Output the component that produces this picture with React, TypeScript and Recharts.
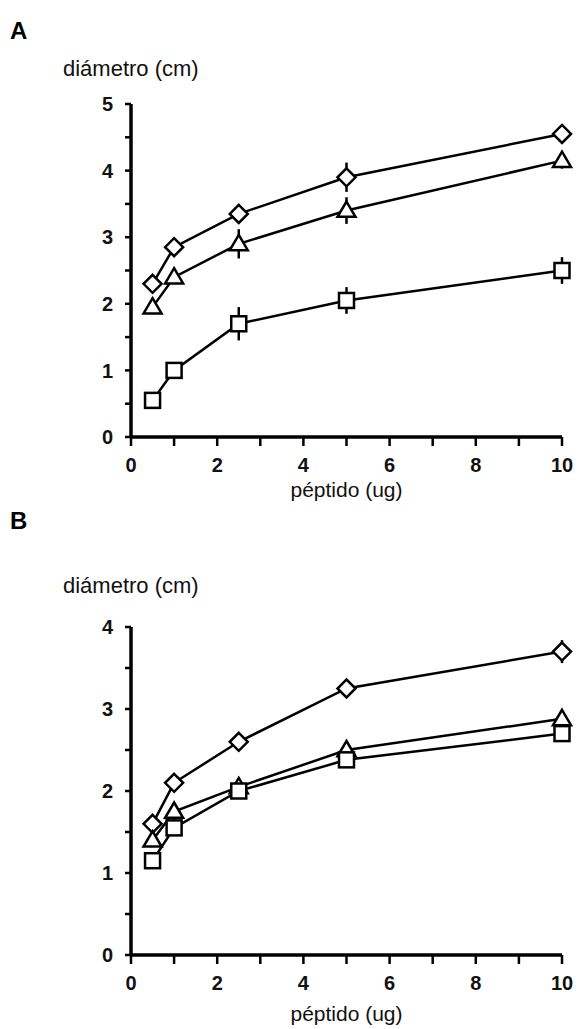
import React from 'react';
import { LineChart, Line, XAxis, YAxis, ErrorBar } from 'recharts';

// peptide dose (ug)
const doses = [0.5, 1, 2.5, 5, 10];

// panel A
const aDiamond = [2.3, 2.85, 3.35, 3.9, 4.55];
const aDiamondErr = [0.05, 0.08, 0.08, 0.22, 0.1];
const aTriangle = [1.95, 2.4, 2.9, 3.4, 4.15];
const aTriangleErr = [0.05, 0.08, 0.22, 0.2, 0.12];
const aSquare = [0.55, 1.0, 1.7, 2.05, 2.5];
const aSquareErr = [0.05, 0.1, 0.25, 0.2, 0.2];

// panel B
const bDiamond = [1.6, 2.1, 2.6, 3.25, 3.7];
const bDiamondErr = [0.08, 0.05, 0.05, 0.08, 0.14];
const bTriangle = [1.4, 1.75, 2.05, 2.5, 2.88];
const bTriangleErr = [0.08, 0.1, 0.08, 0.08, 0.1];
const bSquare = [1.15, 1.55, 2.0, 2.38, 2.7];
const bSquareErr = [0.05, 0.05, 0.05, 0.05, 0.1];

const xTicks = [0, 1, 2, 3, 4, 5, 6, 7, 8, 9, 10];
const yTicksA = [0, 0.5, 1, 1.5, 2, 2.5, 3, 3.5, 4, 4.5, 5];
const yTicksB = [0, 0.5, 1, 1.5, 2, 2.5, 3, 3.5, 4];

const FONT = '"Liberation Sans Narrow", "Liberation Sans", Arial, sans-serif';
const TICK = { fontSize: 20, fontWeight: 700, fill: '#111', fontFamily: FONT };
const AXIS_LINE = { stroke: '#000', strokeWidth: 3.5 };
const TICK_LINE = { stroke: '#000', strokeWidth: 2.5 };
const STROKE = 2.5;

const intOnly = (v: number) => (Number.isInteger(v) ? String(v) : '');

function Diamond({ cx, cy }: any) {
  if (cx == null || cy == null) return null;
  const r = 9;
  return (
    <path
      d={`M${cx},${cy - r}L${cx + r},${cy}L${cx},${cy + r}L${cx - r},${cy}Z`}
      fill="#fff"
      stroke="#000"
      strokeWidth={STROKE}
    />
  );
}

function Triangle({ cx, cy }: any) {
  if (cx == null || cy == null) return null;
  const r = 9;
  return (
    <path
      d={`M${cx},${cy - r}L${cx + r},${cy + r * 0.7}L${cx - r},${cy + r * 0.7}Z`}
      fill="#fff"
      stroke="#000"
      strokeWidth={STROKE}
    />
  );
}

function Square({ cx, cy }: any) {
  if (cx == null || cy == null) return null;
  const r = 7.5;
  return (
    <rect x={cx - r} y={cy - r} width={r * 2} height={r * 2} fill="#fff" stroke="#000" strokeWidth={STROKE} />
  );
}

function buildRows(d: number[], de: number[], t: number[], te: number[], s: number[], se: number[]) {
  return doses.map((x, i) => ({
    x,
    d: d[i],
    dErr: de[i],
    t: t[i],
    tErr: te[i],
    s: s[i],
    sErr: se[i],
  }));
}

interface PanelProps {
  top: number;
  plotHeight: number;
  yMax: number;
  yTicks: number[];
  labelOffset: number;
  rows: ReturnType<typeof buildRows>;
}

function Panel({ top, plotHeight, yMax, yTicks, labelOffset, rows }: PanelProps) {
  const xAxisHeight = 70;
  const height = 10 + plotHeight + xAxisHeight;
  return (
    <div style={{ position: 'absolute', left: 0, top }}>
      <LineChart
        width={578}
        height={height}
        data={rows}
        margin={{ top: 10, right: 16, bottom: 0, left: 91 }}
      >
        <XAxis
          type="number"
          dataKey="x"
          domain={[0, 10]}
          ticks={xTicks}
          tickFormatter={(v: number) => (v % 2 === 0 ? String(v) : '')}
          axisLine={AXIS_LINE}
          tickLine={TICK_LINE}
          tickSize={9}
          tickMargin={12}
          tick={TICK}
          height={xAxisHeight}
          label={{
            value: 'péptido (ug)',
            position: 'insideBottom',
            offset: labelOffset,
            style: { fontSize: 21, fill: '#111', fontFamily: FONT },
          }}
        />
        <YAxis
          type="number"
          domain={[0, yMax]}
          ticks={yTicks}
          tickFormatter={intOnly}
          axisLine={AXIS_LINE}
          tickLine={TICK_LINE}
          tickSize={6}
          tickMargin={12}
          tick={TICK}
          width={40}
          interval={0}
        />
        <Line dataKey="d" stroke="#000" strokeWidth={STROKE} dot={<Diamond />} isAnimationActive={false} />
        <Line dataKey="t" stroke="#000" strokeWidth={STROKE} dot={<Triangle />} isAnimationActive={false} />
        <Line dataKey="s" stroke="#000" strokeWidth={STROKE} dot={<Square />} isAnimationActive={false} />
        {/* error bars drawn on top of the markers */}
        <Line dataKey="d" stroke="none" dot={false} isAnimationActive={false}>
          <ErrorBar dataKey="dErr" width={0} stroke="#000" strokeWidth={STROKE} />
        </Line>
        <Line dataKey="t" stroke="none" dot={false} isAnimationActive={false}>
          <ErrorBar dataKey="tErr" width={0} stroke="#000" strokeWidth={STROKE} />
        </Line>
        <Line dataKey="s" stroke="none" dot={false} isAnimationActive={false}>
          <ErrorBar dataKey="sErr" width={0} stroke="#000" strokeWidth={STROKE} />
        </Line>
      </LineChart>
    </div>
  );
}

const letterStyle: React.CSSProperties = {
  position: 'absolute',
  left: 10,
  fontFamily: '"Liberation Sans", Arial, sans-serif',
  fontWeight: 900,
  fontSize: 24,
  color: '#000',
};

const yTitleStyle: React.CSSProperties = {
  position: 'absolute',
  left: 63,
  fontFamily: FONT,
  fontSize: 22,
  color: '#111',
};

export default function App() {
  const rowsA = buildRows(aDiamond, aDiamondErr, aTriangle, aTriangleErr, aSquare, aSquareErr);
  const rowsB = buildRows(bDiamond, bDiamondErr, bTriangle, bTriangleErr, bSquare, bSquareErr);
  return (
    <div style={{ position: 'absolute', left: 0, top: 0, width: 578, height: 1029, background: '#fff' }}>
      <div style={{ ...letterStyle, top: 17 }}>A</div>
      <div style={{ ...yTitleStyle, top: 56 }}>diámetro (cm)</div>
      <Panel top={94} plotHeight={333} yMax={5} yTicks={yTicksA} labelOffset={10} rows={rowsA} />
      <div style={{ ...letterStyle, top: 507 }}>B</div>
      <div style={{ ...yTitleStyle, top: 573 }}>diámetro (cm)</div>
      <Panel top={617} plotHeight={328} yMax={4} yTicks={yTicksB} labelOffset={4} rows={rowsB} />
    </div>
  );
}
